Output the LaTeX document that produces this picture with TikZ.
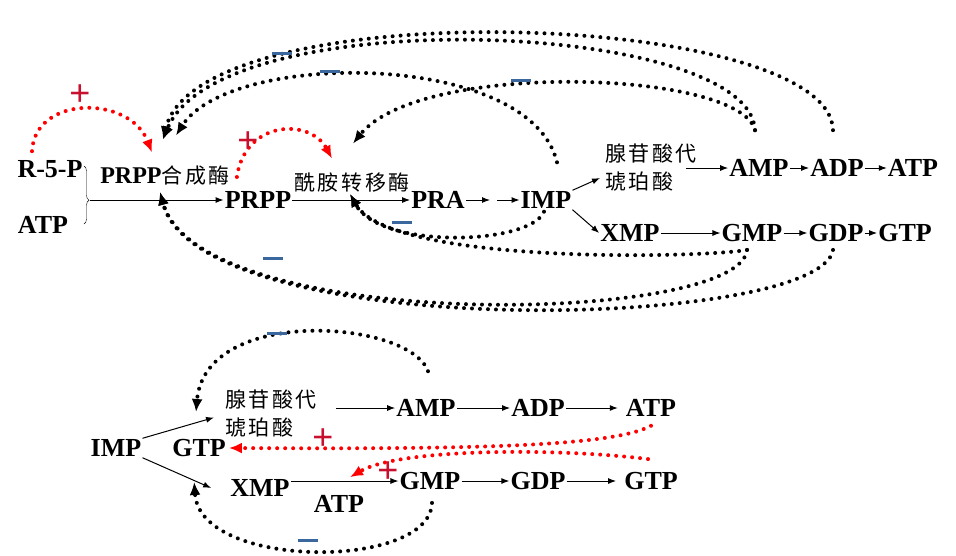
\documentclass[tikz,border=0pt]{standalone}
\usepackage{fontspec}
\setmainfont{Liberation Serif}
\newfontfamily\cjk{Noto Sans CJK SC}[LetterSpace=12]
\newfontfamily\plusfont{Liberation Sans}
\usetikzlibrary{arrows.meta,calc,decorations.pathreplacing}
\definecolor{plusred}{RGB}{200,16,46}
\definecolor{minusblue}{RGB}{58,104,158}
\tikzset{
  met/.style={font=\fontsize{26}{26}\selectfont\bfseries,inner sep=1pt},
  enz/.style={font=\fontsize{21}{28}\cjk,inner sep=1pt},
  rxn/.style={line width=1pt,-{Latex[length=8pt,width=6pt]}},
  fback/.style={line width=4pt,line cap=round,dash pattern=on 0pt off 8pt,-{Latex[length=13pt,width=11pt]}},
  inhib/.style={fback,black},
  activ/.style={fback,red},
  plussign/.style={text=plusred,font=\fontsize{36}{36}\plusfont,inner sep=0pt},
  minussign/.style={text=minusblue,inner sep=0pt}
}
\begin{document}
\begin{tikzpicture}[x=1pt,y=-1pt]
\useasboundingbox (0,0) rectangle (956,555);
\node [met] (r5p) at (50,169) {R-5-P};
\node [met] (atpin) at (43,225) {ATP};
\node [enz] (prs) at (165,176) {{\fontsize{24}{24}\rmfamily\bfseries PRPP}合成酶};
\node [met] (prpp) at (258,200) {PRPP};
\node [enz] (amt) at (352,183) {酰胺转移酶};
\node [met] (pra) at (438,200) {PRA};
\node [met] (imp) at (546,200) {IMP};
\node [enz,align=left] (sa) at (651,168) {腺苷酸代\\琥珀酸};
\node [met] (amp) at (759,168) {AMP};
\node [met] (adp) at (837,168) {ADP};
\node [met] (atp) at (913,168) {ATP};
\node [met] (xmp) at (630,233) {XMP};
\node [met] (gmp) at (752,233) {GMP};
\node [met] (gdp) at (836,233) {GDP};
\node [met] (gtp) at (905,233) {GTP};
\coordinate (brc) at (90,200);
\coordinate (gap1) at (490,200);
\coordinate (gap2) at (497,200);
\draw [decorate,decoration={brace,amplitude=5pt,aspect=0.59}] (84,166) -- (84,224);
\draw [rxn] (brc) -- (prpp.west);
\draw [rxn] (prpp.east) -- (pra.west);
\draw [rxn] (pra.east) -- (gap1);
\draw [rxn] (gap2) -- (imp.west);
\draw [rxn] (imp.north east) -- ($(sa.west)+(-4,10)$);
\draw [rxn] (imp.south east) -- (xmp.west);
\draw [rxn] ($(sa.east)+(-12,0)$) -- (amp.west);
\draw [rxn] (amp.east) -- (adp.west);
\draw [rxn] (adp.east) -- (atp.west);
\draw [rxn] (xmp.east) -- (gmp.west);
\draw [rxn] (gmp.east) -- (gdp.west);
\draw [rxn] (gdp.east) -- (gtp.west);
\draw [activ] ($(r5p.north)+(-18,-8)$) .. controls (35,95) and (130,95) .. ($(prs.north)+(-13,-12.5)$);
\draw [activ] ($(prs.east)+(6,1)$) .. controls (245,120) and (310,118) .. ($(amt.north)+(-20,-13.5)$);
\draw [inhib] ($(adp.north)+(-4,-28)$) .. controls (830,10) and (200,-10) .. ($(prs.north)+(-2,-25.5)$);
\draw [inhib] ($(amp.north)+(-4,-28)$) .. controls (750,20) and (220,0) .. ($(prs.north)+(-2,-25.5)$);
\draw [inhib] ($(imp.north)+(11,-28)$) .. controls (530,50) and (230,50) .. ($(prs.north)+(11,-29.5)$);
\draw [inhib] ($(amp.north)+(-4,-28)$) .. controls (740,70) and (420,60) .. ($(amt.north)+(1,-28.5)$);
\draw [inhib] ($(imp.south)+(-2,2)$) .. controls (530,245) and (380,250) .. ($(amt.south)+(-2,0)$);
\draw [inhib] ($(gmp.south)+(-5,7)$) .. controls (700,258) and (390,265) .. ($(amt.south)+(-2,0)$);
\draw [inhib] ($(gmp.south)+(-5,7)$) .. controls (740,325) and (200,335) .. ($(prs.south)+(-5,5)$);
\draw [inhib] ($(gdp.south)+(-3,7)$) .. controls (820,330) and (200,345) .. ($(prs.south)+(-5,5)$);
\node [plussign] (p1) at (80,95) {+};
\node [plussign] (p2) at (248,142) {+};
\node [minussign] (m1) at (282,53) {\rule{20pt}{3pt}};
\node [minussign] (m2) at (330,71) {\rule{20pt}{3pt}};
\node [minussign] (m3) at (521,80) {\rule{20pt}{3pt}};
\node [minussign] (m4) at (273,258) {\rule{20pt}{3pt}};
\node [minussign] (m5) at (402,222) {\rule{20pt}{3pt}};
\node [met] (imp2) at (116,448) {IMP};
\node [enz,align=left] (sa2) at (271,413.5) {腺苷酸代\\琥珀酸};
\node [met] (gtpb) at (199,448) {GTP};
\node [met] (xmp2) at (260,488) {XMP};
\node [met] (atpb) at (339,504) {ATP};
\node [met] (amp2) at (426,408) {AMP};
\node [met] (adp2) at (538,408) {ADP};
\node [met] (atp2) at (651,408) {ATP};
\node [met] (gmp2) at (430,481) {GMP};
\node [met] (gdp2) at (538,481) {GDP};
\node [met] (gtp2) at (651,481) {GTP};
\draw [rxn] (imp2.north east) -- ($(sa2.west)+(-10,4)$);
\draw [rxn] (imp2.south east) -- ($(xmp2.west)+(-18,0)$);
\draw [rxn] ($(sa2.east)+(18,-5.5)$) -- (amp2.west);
\draw [rxn] (amp2.east) -- (adp2.west);
\draw [rxn,shorten >=7pt] (adp2.east) -- (atp2.west);
\draw [rxn] (xmp2.east |- gmp2.west) -- (gmp2.west);
\draw [rxn] (gmp2.east) -- (gdp2.west);
\draw [rxn,shorten >=7pt] (gdp2.east) -- (gtp2.west);
\draw [inhib] ($(amp2.north)+(2,-27)$) .. controls (410,320) and (205,305) .. ($(sa2.west)+(-28,-1.5)$);
\draw [inhib] ($(gmp2.south)+(2,12)$) .. controls (430,570) and (200,570) .. ($(xmp2.west)+(-35,-6)$);
\draw [activ] ($(atp2.south)+(0,8)$) .. controls (610,448) and (450,449) .. ($(gtpb.east)+(2,0)$);
\draw [activ] ($(gtp2.north)+(-3,-12)$) .. controls (560,448) and (400,448) .. ($(atpb.north)+(11,-17)$);
\node [plussign] (p3) at (323,439) {+};
\node [plussign] (p4) at (388,472) {+};
\node [minussign] (m6) at (277,333) {\rule{20pt}{3pt}};
\node [minussign] (m7) at (308,540) {\rule{20pt}{3pt}};
\end{tikzpicture}
\end{document}
